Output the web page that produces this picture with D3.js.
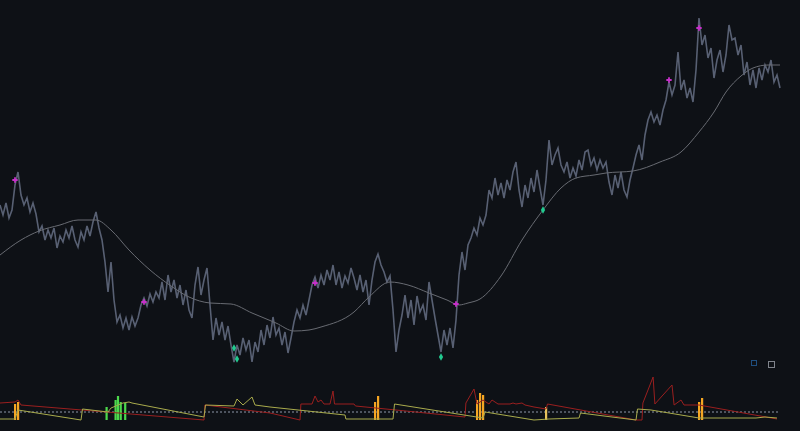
<!DOCTYPE html>
<html>
<head>
<meta charset="utf-8">
<script src="https://cdn.jsdelivr.net/npm/d3@7"></script>
<style>
	html, body { margin: 0; padding: 0; background: #0e1116; }
	svg { display: block; }
</style>
</head>
<body>
<svg id="chart" width="800" height="431"></svg>
<script>
// closing prices, one per bar
var price = [
	195,185,197,182,190,
	215,228,205,195,202,188,197,186,
	168,174,160,170,162,172,152,164,
	158,170,162,174,160,153,168,160,
	174,164,178,188,172,160,138,108,
	138,100,78,85,72,82,70,83,
	74,82,95,102,94,106,98,108,
	102,118,100,125,108,120,102,115,
	95,110,90,82,115,133,105,120,
	132,95,60,82,65,78,60,74,
	55,38,55,45,62,50,60,38,
	58,48,70,55,75,62,83,65,
	72,55,68,47,62,78,90,82,
	95,85,100,115,123,112,125,115,
	130,120,135,115,128,112,124,117,
	132,122,110,125,108,120,95,120,
	138,146,135,128,118,124,90,48,
	70,85,105,82,100,75,104,88,
	95,80,118,100,82,65,48,70,
	55,72,52,80,125,148,130,155,
	162,172,165,182,175,185,210,202,
	222,205,217,202,220,210,228,238,
	210,193,215,202,222,208,230,212,
	195,220,260,235,245,252,235,228,
	238,222,232,224,240,230,248,250,
	235,242,230,240,232,238,218,205,
	225,212,228,210,203,220,232,245,
	255,240,265,280,288,278,285,275,
	290,300,318,305,315,348,310,320,
	302,312,298,330,382,355,365,342,
	352,322,340,350,328,345,375,360,
	362,345,355,325,338,315,330,312,
	332,320,335,328,340,318,325,312
];

// slow moving average: [bar, value]
var maLine = [
	[0,145],[7,160],[13,169],[20,175],[26,180],[32,180],[37,170],[43,150],
	[50,130],[57,114],[63,103],[70,97],[77,96],[84,87],[92,77],[98,69],
	[103,70],[107,73],[118,88],[123,103],[130,118],[136,115],[143,107],[149,100],
	[153,95],[156,97],[160,101],[167,124],[174,160],[181,190],[187,212],[192,222],
	[198,225],[202,227],[211,229],[220,238],[227,248],[233,268],[238,288],[242,308],
	[247,324],[251,332],[256,335],[260,335]
];

// signal markers: [bar, price]
var topSignals = [[5,220],[48,98],[105,117],[152,96],[223,320],[233,372]];
var bottomSignals = [[78,52],[79,41],[147,43],[181,190]];

// lower panel oscillators: [bar, value]
var redLine = [
	[0,17],[5,18],[6,20],[7,15],[68,0],[68.3,15],[90,7],[100,0],
	[100.3,16],[104,16],[105,24],[106,18],[107,20],[108,16],[110,16],[111,29],[111.5,16],
	[118,16],[118.5,14],[132,10],[155,3],[155.3,17],[158,31],[159,16],[161,20],
	[163,16],[164,20],[166,16],[170,16],[171,17],[172,16],[174,17],[175,15],[178,13],
	[182,11],[182.5,16],[212,0],[214,0],[214.3,17],[217.7,43],[218.3,16],[224,35],
	[224.7,15],[227,20],[228,15],[233,15],[259,1]
];
var yellowLine = [
	[0,1],[5,1],[6,10],[27,0],[27.5,11],[36,8],[37,12],[41,17],[43,18],[44,17],
	[68,3],[68.5,15],[78,14],[79,21],[81,15],[84,23],[85,15],[90,13],[115,5],
	[115.3,1],[131,1],[131.5,16],[161,2],[161.7,8],[178,0],[183,1],[193,2],
	[193.5,7],[204,3],[212,0],[212.5,11],[217,10],[233,2],[252,2],[255,3],[259,2]
];
var orangeBars = [[5,16],[6,18],[125,18],[126,24],[159,20],[160,27],[161,25],[182,13],[233,18],[234,22]];
var greenBars = [[35.5,13],[38.5,20],[39.3,24],[40.2,18],[41.7,17]];
var zeroLevel = 8;

var svg = d3.select("#chart");
var width = 800, height = 431;

var xScale = d3.scaleLinear()
	.domain([0, 260])
	.range([0, 780]);

var yScale = d3.scaleLinear()
	.domain([0, 400])
	.range([400, 0]);

var yLow = d3.scaleLinear()
	.domain([0, 50])
	.range([420, 370]);

svg.append("rect")
	.attr("width", width)
	.attr("height", height)
	.attr("fill", "#0e1116");

var priceLine = d3.line()
	.x(function(d, i) { return xScale(i); })
	.y(function(d) { return yScale(d); });

var maPath = d3.line()
	.curve(d3.curveMonotoneX)
	.x(function(d) { return xScale(d[0]); })
	.y(function(d) { return yScale(d[1]); });

var lowLine = d3.line()
	.x(function(d) { return xScale(d[0]); })
	.y(function(d) { return yLow(d[1]); });

// price
svg.append("path")
	.datum(price)
	.attr("fill", "none")
	.attr("stroke", "#586073")
	.attr("stroke-width", 1.6)
	.attr("stroke-linejoin", "miter")
	.attr("d", priceLine);

// moving average
svg.append("path")
	.datum(maLine)
	.attr("fill", "none")
	.attr("stroke", "#686b72")
	.attr("stroke-width", 1)
	.attr("d", maPath);

svg.selectAll(".top-sig")
	.data(topSignals)
	.enter().append("path")
		.attr("class", "top-sig")
		.attr("transform", function(d) { return "translate(" + xScale(d[0]) + "," + yScale(d[1]) + ")"; })
		.attr("d", d3.symbol().type(d3.symbolCross).size(16))
		.attr("fill", "#c630c9");

svg.selectAll(".bot-sig")
	.data(bottomSignals)
	.enter().append("path")
		.attr("class", "bot-sig")
		.attr("transform", function(d) { return "translate(" + xScale(d[0]) + "," + yScale(d[1]) + ")"; })
		.attr("d", d3.symbol().type(d3.symbolDiamond).size(16))
		.attr("fill", "#22c98f");

// lower panel
svg.append("line")
	.attr("x1", 0)
	.attr("x2", xScale(260))
	.attr("y1", yLow(zeroLevel))
	.attr("y2", yLow(zeroLevel))
	.attr("stroke", "#8d97a8")
	.attr("stroke-width", 1)
	.attr("stroke-dasharray", "2,2");

svg.selectAll(".obar")
	.data(orangeBars)
	.enter().append("rect")
		.attr("class", "obar")
		.attr("x", function(d) { return xScale(d[0]) - 1; })
		.attr("width", 2.2)
		.attr("y", function(d) { return yLow(d[1]); })
		.attr("height", function(d) { return yLow(0) - yLow(d[1]); })
		.attr("fill", function(d) { return d[1] < 15 ? "#e8c35c" : "#f5a623"; });

svg.selectAll(".gbar")
	.data(greenBars)
	.enter().append("rect")
		.attr("class", "gbar")
		.attr("x", function(d) { return xScale(d[0]) - 1; })
		.attr("width", 2.2)
		.attr("y", function(d) { return yLow(d[1]); })
		.attr("height", function(d) { return yLow(0) - yLow(d[1]); })
		.attr("fill", "#4cd94c");

svg.append("path")
	.datum(redLine)
	.attr("fill", "none")
	.attr("stroke", "#9a1f1f")
	.attr("stroke-width", 1)
	.attr("d", lowLine);

svg.append("path")
	.datum(yellowLine)
	.attr("fill", "none")
	.attr("stroke", "#a9ab4c")
	.attr("stroke-width", 1)
	.attr("d", lowLine);

// small panel buttons
svg.append("rect")
	.attr("x", 751.5).attr("y", 360.5)
	.attr("width", 5).attr("height", 5)
	.attr("fill", "none")
	.attr("stroke", "#1f4f80");
svg.append("rect")
	.attr("x", 768.5).attr("y", 361.5)
	.attr("width", 6).attr("height", 6)
	.attr("fill", "none")
	.attr("stroke", "#80848c");
</script>
</body>
</html>
